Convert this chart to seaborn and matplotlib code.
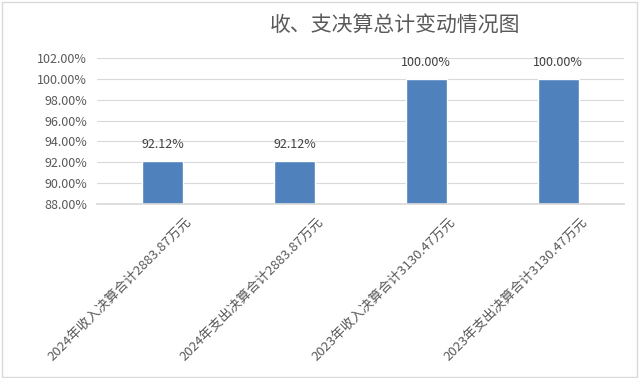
import matplotlib
matplotlib.use('Agg')
import matplotlib.pyplot as plt
import matplotlib.transforms as mtransforms
from matplotlib.patches import Rectangle
from matplotlib.ticker import FuncFormatter
import seaborn as sns
import pandas as pd

categories = ['2024年收入决算合计2883.87万元', '2024年支出决算合计2883.87万元',
              '2023年收入决算合计3130.47万元', '2023年支出决算合计3130.47万元']
values = [92.12, 92.12, 100.00, 100.00]
y_ticks = [88, 90, 92, 94, 96, 98, 100, 102]

sns.set_theme(style='white')
plt.rcParams['font.family'] = ['Noto Sans CJK SC', 'DejaVu Sans']

df = pd.DataFrame({'类别': categories, '比例': values})

fig = plt.figure(figsize=(6.4, 3.78), dpi=100)
ax = fig.add_axes([0.151, 0.460, 0.824, 0.387])

sns.barplot(data=df, x='类别', y='比例', color='#4F81BD', saturation=1,
            width=0.31, ax=ax)

ax.set_ylim(88, 102)
ax.set_yticks(y_ticks)
ax.yaxis.set_major_formatter(FuncFormatter(lambda v, p: f'{v:.2f}%'))
ax.grid(axis='y', color='#D9D9D9', linewidth=0.8)
ax.set_axisbelow(True)
for s in ['left', 'right', 'top']:
    ax.spines[s].set_visible(False)
ax.spines['bottom'].set_color('#D9D9D9')
ax.set_xlabel('')
ax.set_ylabel('')
ax.tick_params(axis='both', length=0, colors='#595959', labelsize=9)
ax.tick_params(axis='y', pad=7)
ax.tick_params(axis='x', labelsize=9.5)

for i, v in enumerate(values):
    ax.annotate(f'{v:.2f}%', (i, v), xytext=(0, 7), textcoords='offset points',
                ha='center', va='bottom', fontsize=9, color='#404040')

offset = mtransforms.ScaledTranslation(27 / 100, -11 / 100, fig.dpi_scale_trans)
for lab in ax.get_xticklabels():
    lab.set_rotation(45)
    lab.set_ha('right')
    lab.set_va('center')
    lab.set_rotation_mode('anchor')
    lab.set_transform(lab.get_transform() + offset)

fig.text(0.617, 0.931, '收、支决算总计变动情况图', ha='center', va='center',
         fontsize=15, color='#595959')

fig.patches.append(Rectangle((0.003, 0.003), 0.992, 0.993, transform=fig.transFigure,
                             fill=False, edgecolor='#D9D9D9', linewidth=1))

fig.savefig('out.png', dpi=100, facecolor='white')
